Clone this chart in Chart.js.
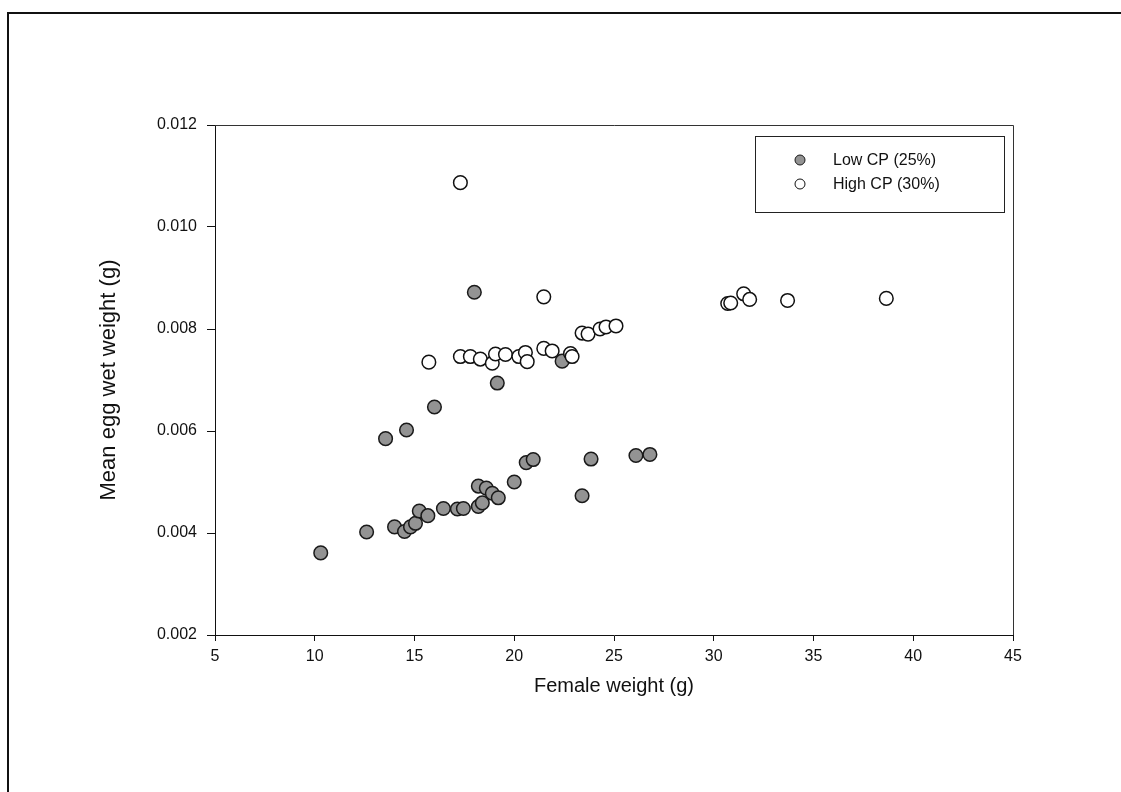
<!DOCTYPE html>
<html>
<head>
<meta charset="utf-8">
<script src="https://cdn.jsdelivr.net/npm/chart.js@4/dist/chart.umd.min.js"></script>
<style>
  html, body { margin: 0; padding: 0; background: #fff; }
  #wrap { width: 1121px; height: 792px; position: relative; }
</style>
</head>
<body>
<div id="wrap"><canvas id="chart" width="1121" height="792"></canvas></div>
<script>
// Low CP (25%) - female weight (g) vs mean egg wet weight (g)
const lowX = [10.3, 12.6, 13.55, 14.6, 16.0, 14.0, 14.5, 14.8, 15.05, 15.24, 15.67, 16.45, 17.15, 17.45,
              18.2, 18.4, 18.2, 18.6, 18.9, 19.2, 20.0, 20.6, 20.95, 23.4, 23.85, 26.1, 26.8, 18.0, 19.15, 22.4];
const lowY = [0.00361, 0.00402, 0.00585, 0.00602, 0.00647, 0.00412, 0.00403, 0.00412, 0.00419, 0.00443, 0.00434, 0.00448, 0.00447, 0.00448,
              0.00452, 0.00459, 0.00492, 0.00488, 0.00478, 0.00469, 0.00500, 0.00538, 0.00544, 0.00473, 0.00545, 0.00552, 0.00554, 0.00872, 0.00694, 0.00737];

// High CP (30%)
const highX = [17.3, 15.72, 17.3, 17.8, 18.3, 18.9, 19.06, 19.56, 20.23, 20.56, 20.65, 21.48, 21.9, 22.82, 22.9,
               23.4, 23.7, 24.3, 24.6, 25.1, 21.48, 30.7, 30.85, 31.5, 31.8, 33.7, 38.65];
const highY = [0.01087, 0.00735, 0.00746, 0.00746, 0.00741, 0.00733, 0.00751, 0.00750, 0.00746, 0.00754, 0.00736, 0.00762, 0.00757, 0.00752, 0.00746,
               0.00792, 0.00790, 0.00800, 0.00804, 0.00806, 0.00863, 0.00850, 0.00851, 0.00869, 0.00858, 0.00856, 0.00860];

const xTicks = [5, 10, 15, 20, 25, 30, 35, 40, 45];
const yTicks = [0.002, 0.004, 0.006, 0.008, 0.010, 0.012];

const FONT = '"Liberation Sans", Arial, sans-serif';

function toPoints(xs, ys) {
    return xs.map((x, i) => ({ x: x, y: ys[i] }));
}

// frame, plot box and the in-plot legend
const decorations = {
    id: 'decorations',
    afterDraw(chart) {
        const ctx = chart.ctx;
        const area = chart.chartArea;
        ctx.save();

        // outer page frame (left + top)
        ctx.strokeStyle = '#111';
        ctx.lineWidth = 2;
        ctx.beginPath();
        ctx.moveTo(8, 792);
        ctx.lineTo(8, 13);
        ctx.lineTo(1121, 13);
        ctx.stroke();

        // top and right of plot box
        ctx.lineWidth = 1;
        ctx.strokeStyle = '#333';
        ctx.beginPath();
        ctx.moveTo(area.left, area.top + 0.5);
        ctx.lineTo(area.right + 0.5, area.top + 0.5);
        ctx.lineTo(area.right + 0.5, area.bottom);
        ctx.stroke();

        // legend box
        const bx = 755, by = 136, bw = 249, bh = 76;
        ctx.fillStyle = '#fff';
        ctx.fillRect(bx, by, bw, bh);
        ctx.strokeStyle = '#222';
        ctx.strokeRect(bx + 0.5, by + 0.5, bw, bh);

        ctx.font = '16px ' + FONT;
        ctx.textBaseline = 'middle';
        ctx.textAlign = 'left';
        const rows = [chart.data.datasets[1], chart.data.datasets[0]];
        rows.forEach((ds, i) => {
            const cy = 160 + i * 24;
            ctx.beginPath();
            ctx.arc(800, cy, 5, 0, Math.PI * 2);
            ctx.fillStyle = ds.backgroundColor;
            ctx.fill();
            ctx.lineWidth = 1;
            ctx.strokeStyle = ds.borderColor;
            ctx.stroke();
            ctx.fillStyle = '#111';
            ctx.fillText(ds.label, 833, cy + 1);
        });
        ctx.restore();
    }
};

const ctx = document.getElementById('chart');
new Chart(ctx, {
    type: 'scatter',
    data: {
        datasets: [
            {
                label: 'High CP (30%)',
                data: toPoints(highX, highY),
                backgroundColor: '#ffffff',
                borderColor: '#111111',
                borderWidth: 1.5,
                pointRadius: 6.8,
                order: 1
            },
            {
                label: 'Low CP (25%)',
                data: toPoints(lowX, lowY),
                backgroundColor: '#939393',
                borderColor: '#1a1a1a',
                borderWidth: 1.5,
                pointRadius: 6.8,
                order: 2
            }
        ]
    },
    options: {
        responsive: false,
        animation: false,
        layout: {
            padding: { top: 125, right: 108, bottom: 90, left: 92 }
        },
        plugins: {
            legend: { display: false },
            tooltip: { enabled: false }
        },
        scales: {
            x: {
                type: 'linear',
                min: 5,
                max: 45,
                afterBuildTicks: scale => { scale.ticks = xTicks.map(v => ({ value: v })); },
                afterFit: scale => { scale.height = 67; },
                border: { display: true, color: '#111', width: 1 },
                grid: { drawOnChartArea: false, drawTicks: true, tickLength: 6, color: '#111' },
                ticks: {
                    color: '#111',
                    padding: 6,
                    maxRotation: 0,
                    font: { family: FONT, size: 16 }
                },
                title: {
                    display: true,
                    text: 'Female weight (g)',
                    color: '#111',
                    padding: { top: 4, bottom: 4 },
                    font: { family: FONT, size: 20 }
                }
            },
            y: {
                type: 'linear',
                min: 0.002,
                max: 0.012,
                afterBuildTicks: scale => { scale.ticks = yTicks.map(v => ({ value: v })); },
                afterFit: scale => { scale.width = 123; },
                border: { display: true, color: '#111', width: 1 },
                grid: { drawOnChartArea: false, drawTicks: true, tickLength: 8, color: '#111' },
                ticks: {
                    color: '#111',
                    padding: 10,
                    font: { family: FONT, size: 16 },
                    callback: v => Number(v).toFixed(3)
                },
                title: {
                    display: true,
                    text: 'Mean egg wet weight (g)',
                    color: '#111',
                    padding: { top: 4, bottom: 4 },
                    font: { family: FONT, size: 22 }
                }
            }
        }
    },
    plugins: [decorations]
});
</script>
</body>
</html>
